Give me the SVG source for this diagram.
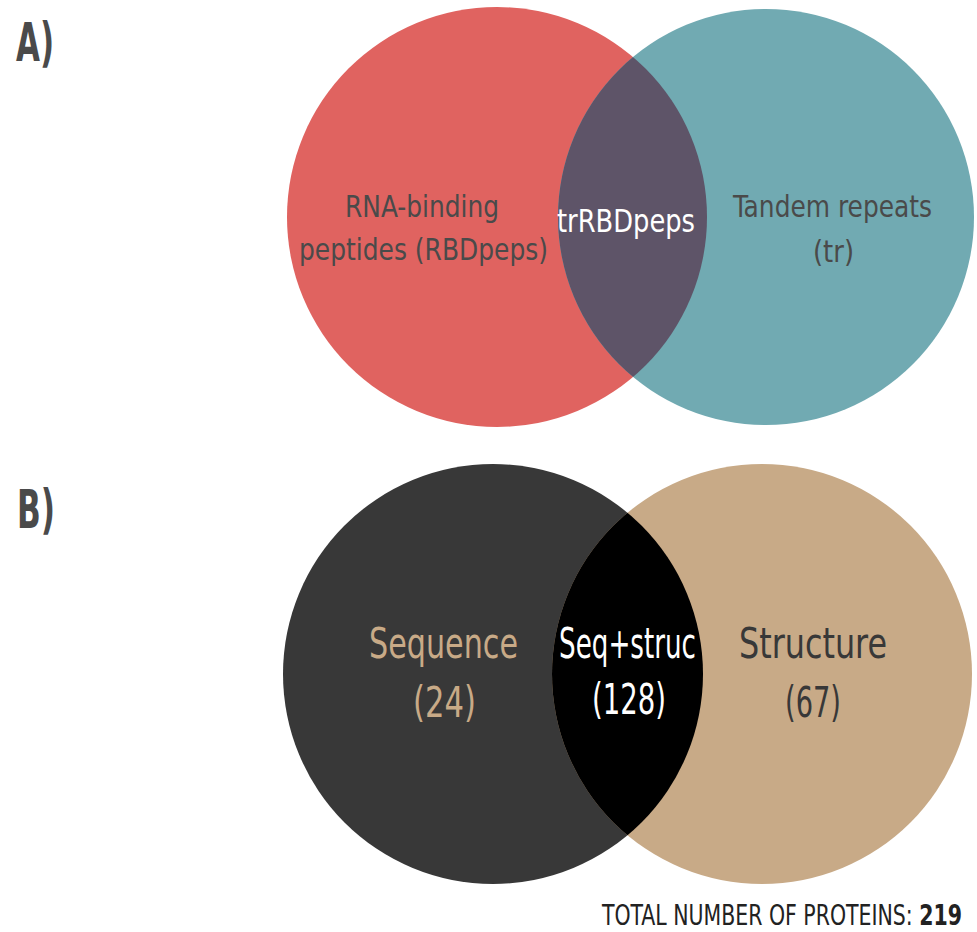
<svg xmlns="http://www.w3.org/2000/svg" width="977" height="932" viewBox="0 0 977 932">
<style>
.t{font-family:"DejaVu Sans Condensed","Liberation Sans Narrow",Roboto,sans-serif;font-stretch:condensed;font-weight:400}
.b{font-family:"DejaVu Sans Condensed","Liberation Sans Narrow",Roboto,sans-serif;font-stretch:condensed;font-weight:700}
.lab{fill:#4a4a4a}
</style>
<defs>
<clipPath id="clipRed"><circle cx="497" cy="217" r="210"/></clipPath>
<clipPath id="clipDark"><circle cx="493" cy="674" r="210"/></clipPath>
</defs>
<rect width="977" height="932" fill="#ffffff"/>
<g id="labelA"><text class="b lab" x="16" y="61" font-size="54" textLength="38" lengthAdjust="spacingAndGlyphs">A)</text></g>
<g id="labelB"><text class="b lab" x="17" y="528" font-size="54" textLength="38" lengthAdjust="spacingAndGlyphs">B)</text></g>

<g id="rbdpeps">
<circle cx="497" cy="217" r="210" fill="#e06360"/>
<text class="t" fill="#4a4a4a" x="345" y="217" font-size="30" textLength="154" lengthAdjust="spacingAndGlyphs">RNA-binding</text>
<text class="t" fill="#4a4a4a" x="299" y="260" font-size="30" textLength="249" lengthAdjust="spacingAndGlyphs">peptides (RBDpeps)</text>
</g>
<g id="tr">
<circle cx="766" cy="217" r="208" fill="#71aab2"/>
<text class="t" fill="#4a4a4a" x="733" y="217" font-size="30" textLength="199" lengthAdjust="spacingAndGlyphs">Tandem repeats</text>
<text class="t" fill="#4a4a4a" x="813" y="262" font-size="30" textLength="41" lengthAdjust="spacingAndGlyphs">(tr)</text>
</g>
<g id="trRBDpeps">
<circle cx="766" cy="217" r="208" fill="#5e5468" clip-path="url(#clipRed)"/>
<text class="t" fill="#ffffff" x="557" y="232" font-size="32" textLength="138" lengthAdjust="spacingAndGlyphs">trRBDpeps</text>
</g>

<g id="sequence">
<circle cx="493" cy="674" r="210" fill="#383838"/>
<text class="t" fill="#c8aa87" x="369" y="658" font-size="43" textLength="149" lengthAdjust="spacingAndGlyphs">Sequence</text>
<text class="t" fill="#c8aa87" x="413" y="717" font-size="43" textLength="63" lengthAdjust="spacingAndGlyphs">(24)</text>
</g>
<g id="structure">
<circle cx="762" cy="674" r="210" fill="#c8aa87"/>
<text class="t" fill="#383838" x="739" y="658" font-size="43" textLength="148" lengthAdjust="spacingAndGlyphs">Structure</text>
<text class="t" fill="#383838" x="785" y="717" font-size="43" textLength="56" lengthAdjust="spacingAndGlyphs">(67)</text>
</g>
<g id="seqstruc">
<circle cx="762" cy="674" r="210" fill="#000000" clip-path="url(#clipDark)"/>
<text class="t" fill="#ffffff" x="559" y="658" font-size="43" textLength="137" lengthAdjust="spacingAndGlyphs">Seq+struc</text>
<text class="t" fill="#ffffff" x="592" y="714" font-size="43" textLength="74" lengthAdjust="spacingAndGlyphs">(128)</text>
</g>

<g id="total">
<text class="t" fill="#222222" x="602" y="925" font-size="29" textLength="360" lengthAdjust="spacingAndGlyphs">TOTAL NUMBER OF PROTEINS: <tspan class="b">219</tspan></text>
</g>
</svg>
